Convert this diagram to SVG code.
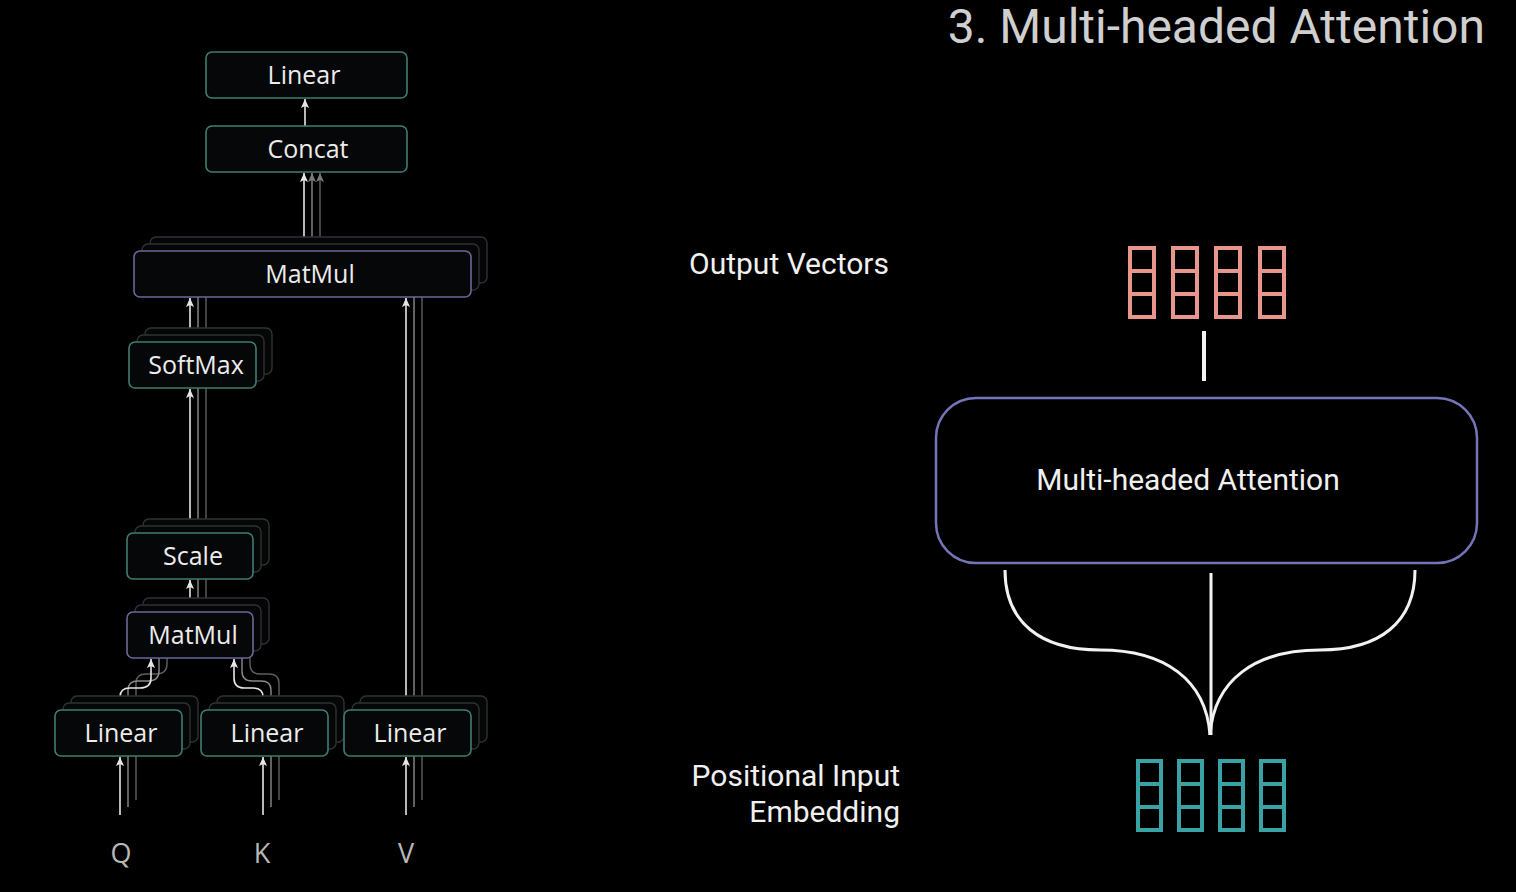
<svg xmlns="http://www.w3.org/2000/svg" width="1516" height="892" viewBox="0 0 1516 892">
<defs>
<marker id="ah" markerUnits="userSpaceOnUse" markerWidth="12" markerHeight="12" viewBox="0 0 12 12" refX="10" refY="6" orient="auto">
<path d="M10,6 L1,2 L3,6 L1,10 Z" fill="#e6e6e6"/>
</marker>
<marker id="ahg" markerUnits="userSpaceOnUse" markerWidth="12" markerHeight="12" viewBox="0 0 12 12" refX="10" refY="6" orient="auto">
<path d="M10,6 L1,2 L3,6 L1,10 Z" fill="#7a7a7a"/>
</marker>
<style>
.bg{fill:#000}
.box{fill:#060708;stroke-width:1.6}
.teal{stroke:#3f7d72}
.purp{stroke:#6a6898}
.sh{fill:#050606;stroke:#2c3432;stroke-width:1.4}
.shp{fill:#050506;stroke:#2f2f3c;stroke-width:1.4}
.lbl{font-family:"Open Sans","Noto Sans",sans-serif;font-size:25px;fill:#ececec;text-anchor:middle}
.qkv{font-family:"Open Sans","Noto Sans",sans-serif;font-size:27px;fill:#b8b8b8;text-anchor:middle}
.main{stroke:#e6e6e6;stroke-width:1.6;fill:none}
.s1{stroke:#8a8a8a;stroke-width:1.4;fill:none}
.s2{stroke:#5e5e5e;stroke-width:1.4;fill:none}
.rt{font-family:Roboto,"Liberation Sans",sans-serif;fill:#f0f0f0}
.vp{fill:none;stroke:#e8968c;stroke-width:4}
.vt{fill:none;stroke:#38a2a4;stroke-width:4}
.curve{fill:none;stroke:#f2f2f2;stroke-width:3}
</style>
</defs>
<rect class="bg" x="0" y="0" width="1516" height="892"/>

<!-- connectors -->
<g id="connectors">
  <g id="stack-lines">
    <path class="s2" d="M136,800 V742"/>
    <path class="s1" d="M128,807 V749"/>
    <path class="s2" d="M279,800 V742"/>
    <path class="s1" d="M271,807 V749"/>
    <path class="s2" d="M422,800 V742"/>
    <path class="s1" d="M414,807 V749"/>
    <path class="s2" d="M422,696 V283"/>
    <path class="s1" d="M414,703 V290"/>
    <path class="s2" d="M136,696 V683 Q136,674 146,674 H156 Q167,674 167,664 V644"/>
    <path class="s1" d="M128,703 V690 Q128,681 138,681 H148 Q159,681 159,671 V651"/>
    <path class="s2" d="M279,696 V683 Q279,674 269,674 H260 Q250,674 250,664 V644"/>
    <path class="s1" d="M271,703 V690 Q271,681 261,681 H252 Q242,681 242,671 V651"/>
    <path class="s2" d="M206,598 V565"/>
    <path class="s1" d="M198,605 V572"/>
    <path class="s2" d="M206,519 V374"/>
    <path class="s1" d="M198,526 V381"/>
    <path class="s2" d="M206,328 V283"/>
    <path class="s1" d="M198,335 V290"/>
    <path class="s2" d="M320,237 V173" marker-end="url(#ahg)"/>
    <path class="s1" d="M312,244 V173" marker-end="url(#ahg)"/>
  </g>
  <path class="main" d="M120,815 V757" marker-end="url(#ah)"/>
  <path class="main" d="M263,815 V757" marker-end="url(#ah)"/>
  <path class="main" d="M406,815 V757" marker-end="url(#ah)"/>
  <path class="main" d="M406,710 V298" marker-end="url(#ah)"/>
  <path class="main" d="M120,710 V697 Q120,688 130,688 H140 Q151,688 151,678 V659" marker-end="url(#ah)"/>
  <path class="main" d="M263,710 V697 Q263,688 253,688 H244 Q234,688 234,678 V659" marker-end="url(#ah)"/>
  <path class="main" d="M190,612 V580" marker-end="url(#ah)"/>
  <path class="main" d="M190,533 V389" marker-end="url(#ah)"/>
  <path class="main" d="M190,342 V298" marker-end="url(#ah)"/>
  <path class="main" d="M304,251 V173" marker-end="url(#ah)"/>
  <path class="main" d="M305,126 V99" marker-end="url(#ah)"/>
</g>

<!-- nodes -->
<g id="node-linear-out">
  <rect class="box teal" x="206" y="52" width="201" height="46" rx="6"/>
  <text class="lbl" x="304" y="84">Linear</text>
</g>
<g id="node-concat">
  <rect class="box teal" x="206" y="126" width="201" height="46" rx="6"/>
  <text class="lbl" x="308" y="158">Concat</text>
</g>
<g id="node-matmul-big">
  <rect class="shp" x="150" y="237" width="337" height="46" rx="6"/>
  <rect class="shp" x="142" y="244" width="337" height="46" rx="6"/>
  <rect class="box purp" x="134" y="251" width="337" height="46" rx="6"/>
  <text class="lbl" x="310" y="283">MatMul</text>
</g>
<g id="node-softmax">
  <rect class="sh" x="145" y="328" width="127" height="46" rx="6"/>
  <rect class="sh" x="137" y="335" width="127" height="46" rx="6"/>
  <rect class="box teal" x="129" y="342" width="127" height="46" rx="6"/>
  <text class="lbl" x="196" y="374">SoftMax</text>
</g>
<g id="node-scale">
  <rect class="sh" x="143" y="519" width="126" height="46" rx="6"/>
  <rect class="sh" x="135" y="526" width="126" height="46" rx="6"/>
  <rect class="box teal" x="127" y="533" width="126" height="46" rx="6"/>
  <text class="lbl" x="193" y="565">Scale</text>
</g>
<g id="node-matmul-small">
  <rect class="shp" x="143" y="598" width="126" height="46" rx="6"/>
  <rect class="shp" x="135" y="605" width="126" height="46" rx="6"/>
  <rect class="box purp" x="127" y="612" width="126" height="46" rx="6"/>
  <text class="lbl" x="193" y="644">MatMul</text>
</g>
<g id="node-linear-q">
  <rect class="sh" x="71" y="696" width="127" height="46" rx="6"/>
  <rect class="sh" x="63" y="703" width="127" height="46" rx="6"/>
  <rect class="box teal" x="55" y="710" width="127" height="46" rx="6"/>
  <text class="lbl" x="121" y="742">Linear</text>
</g>
<g id="node-linear-k">
  <rect class="sh" x="217" y="696" width="127" height="46" rx="6"/>
  <rect class="sh" x="209" y="703" width="127" height="46" rx="6"/>
  <rect class="box teal" x="201" y="710" width="127" height="46" rx="6"/>
  <text class="lbl" x="267" y="742">Linear</text>
</g>
<g id="node-linear-v">
  <rect class="sh" x="360" y="696" width="127" height="46" rx="6"/>
  <rect class="sh" x="352" y="703" width="127" height="46" rx="6"/>
  <rect class="box teal" x="344" y="710" width="127" height="46" rx="6"/>
  <text class="lbl" x="410" y="742">Linear</text>
</g>
<g id="inputs">
  <text class="qkv" x="121" y="863">Q</text>
  <text class="qkv" x="262" y="863">K</text>
  <text class="qkv" x="406" y="863">V</text>
</g>

<!-- right side -->
<text id="title" class="rt" x="1485" y="43" font-size="48" text-anchor="end" style="fill:#cfcfcf">3. Multi-headed Attention</text>
<text id="label-output" class="rt" x="689" y="274" font-size="30">Output Vectors</text>
<g id="label-input">
  <text class="rt" x="900" y="786" font-size="30" text-anchor="end">Positional Input</text>
  <text class="rt" x="900" y="822" font-size="30" text-anchor="end">Embedding</text>
</g>

<g id="output-vectors">
  <rect class="vp" x="1130" y="248" width="24" height="69"/><path class="vp" d="M1130,271 h24 M1130,294 h24"/>
  <rect class="vp" x="1173" y="248" width="24" height="69"/><path class="vp" d="M1173,271 h24 M1173,294 h24"/>
  <rect class="vp" x="1216" y="248" width="24" height="69"/><path class="vp" d="M1216,271 h24 M1216,294 h24"/>
  <rect class="vp" x="1260" y="248" width="24" height="69"/><path class="vp" d="M1260,271 h24 M1260,294 h24"/>
</g>
<rect id="output-link" x="1202" y="331" width="4" height="50" fill="#f2f2f2"/>

<g id="node-mha">
  <rect x="936" y="398" width="541" height="165" rx="40" fill="#000" stroke="#7474b8" stroke-width="2.5"/>
  <text class="rt" x="1188" y="490" font-size="30" text-anchor="middle">Multi-headed Attention</text>
</g>

<g id="mha-inputs">
  <path class="curve" d="M1005,570 C1005,622 1040,650 1100,650 C1165,650 1206,680 1210,735"/>
  <path class="curve" d="M1415,570 C1415,622 1380,650 1320,650 C1255,650 1214,680 1210,735"/>
  <path class="curve" d="M1211,573 V735"/>
</g>

<g id="input-vectors">
  <rect class="vt" x="1138" y="761" width="23" height="69"/><path class="vt" d="M1138,784 h23 M1138,807 h23"/>
  <rect class="vt" x="1179" y="761" width="23" height="69"/><path class="vt" d="M1179,784 h23 M1179,807 h23"/>
  <rect class="vt" x="1220" y="761" width="23" height="69"/><path class="vt" d="M1220,784 h23 M1220,807 h23"/>
  <rect class="vt" x="1261" y="761" width="23" height="69"/><path class="vt" d="M1261,784 h23 M1261,807 h23"/>
</g>
</svg>
